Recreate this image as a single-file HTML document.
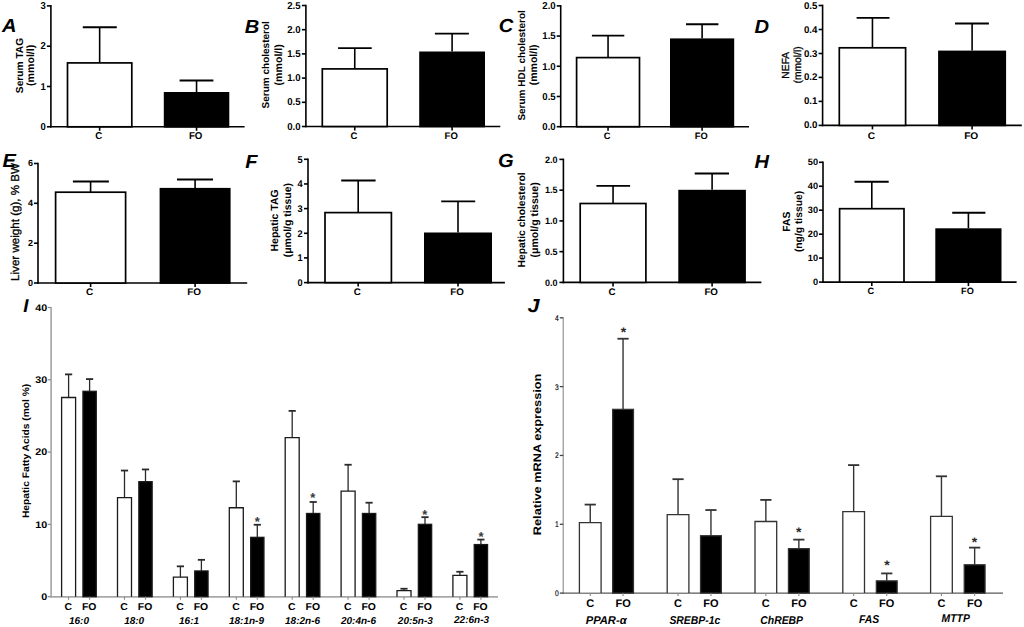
<!DOCTYPE html>
<html><head><meta charset="utf-8"><style>
html,body{margin:0;padding:0;background:#fff;width:1024px;height:627px;overflow:hidden}
svg{display:block}
text{font-family:"Liberation Sans", sans-serif;text-rendering:geometricPrecision}
</style></head><body>
<svg width="1024" height="627" viewBox="0 0 1024 627">
<rect width="1024" height="627" fill="#fff"/>
<line x1="50.90" y1="5.10" x2="50.90" y2="127.60" stroke="#000" stroke-width="1.6"/>
<line x1="50.10" y1="126.80" x2="244.60" y2="126.80" stroke="#000" stroke-width="1.6"/>
<line x1="46.90" y1="5.90" x2="50.90" y2="5.90" stroke="#000" stroke-width="1.6"/>
<text x="45.90" y="9.00" font-size="10" font-weight="bold" font-style="normal" text-anchor="end" fill="#000" transform="translate(45.90 9.00) rotate(0) scale(0.95 1.0) translate(-45.90 -9.00)">3</text>
<line x1="46.90" y1="46.20" x2="50.90" y2="46.20" stroke="#000" stroke-width="1.6"/>
<text x="45.90" y="49.30" font-size="10" font-weight="bold" font-style="normal" text-anchor="end" fill="#000" transform="translate(45.90 49.30) rotate(0) scale(0.95 1.0) translate(-45.90 -49.30)">2</text>
<line x1="46.90" y1="86.50" x2="50.90" y2="86.50" stroke="#000" stroke-width="1.6"/>
<text x="45.90" y="89.60" font-size="10" font-weight="bold" font-style="normal" text-anchor="end" fill="#000" transform="translate(45.90 89.60) rotate(0) scale(0.95 1.0) translate(-45.90 -89.60)">1</text>
<line x1="46.90" y1="126.80" x2="50.90" y2="126.80" stroke="#000" stroke-width="1.6"/>
<text x="45.90" y="129.90" font-size="10" font-weight="bold" font-style="normal" text-anchor="end" fill="#000" transform="translate(45.90 129.90) rotate(0) scale(0.95 1.0) translate(-45.90 -129.90)">0</text>
<line x1="99.65" y1="27.30" x2="99.65" y2="62.90" stroke="#000" stroke-width="1.6"/>
<line x1="82.80" y1="27.30" x2="116.80" y2="27.30" stroke="#000" stroke-width="1.9"/>
<rect x="67.50" y="62.90" width="64.30" height="63.90" fill="#fff" stroke="#000" stroke-width="1.7"/>
<line x1="99.65" y1="126.80" x2="99.65" y2="130.80" stroke="#000" stroke-width="1.6"/>
<text x="98.75" y="138.90" font-size="10" font-weight="bold" font-style="normal" text-anchor="middle" fill="#000" transform="translate(98.75 138.90) rotate(0) scale(0.97 1.0) translate(-98.75 -138.90)">C</text>
<line x1="196.55" y1="80.50" x2="196.55" y2="92.00" stroke="#000" stroke-width="1.6"/>
<line x1="179.60" y1="80.50" x2="213.40" y2="80.50" stroke="#000" stroke-width="1.9"/>
<rect x="164.65" y="92.85" width="63.80" height="33.95" fill="#000" stroke="#000" stroke-width="1.7"/>
<line x1="196.55" y1="126.80" x2="196.55" y2="130.80" stroke="#000" stroke-width="1.6"/>
<text x="195.65" y="138.90" font-size="10" font-weight="bold" font-style="normal" text-anchor="middle" fill="#000" transform="translate(195.65 138.90) rotate(0) scale(0.97 1.0) translate(-195.65 -138.90)">FO</text>
<text x="1.90" y="32.30" font-size="19" font-weight="bold" font-style="italic" text-anchor="start" fill="#000" transform="translate(1.90 32.30) rotate(0) scale(1.06 1.0) translate(-1.90 -32.30)">A</text>
<text x="22.80" y="65.50" font-size="10.2" font-weight="bold" font-style="normal" text-anchor="middle" fill="#000" transform="rotate(-90 22.80 65.50)">Serum TAG</text>
<text x="33.60" y="65.30" font-size="10.6" font-weight="bold" font-style="normal" text-anchor="middle" fill="#000" transform="rotate(-90 33.60 65.30)">(mmol/l)</text>
<line x1="305.90" y1="4.70" x2="305.90" y2="127.30" stroke="#000" stroke-width="1.6"/>
<line x1="305.10" y1="126.50" x2="500.30" y2="126.50" stroke="#000" stroke-width="1.6"/>
<line x1="301.90" y1="5.50" x2="305.90" y2="5.50" stroke="#000" stroke-width="1.6"/>
<text x="300.60" y="8.60" font-size="10" font-weight="bold" font-style="normal" text-anchor="end" fill="#000" transform="translate(300.60 8.60) rotate(0) scale(0.96 1.0) translate(-300.60 -8.60)">2.5</text>
<line x1="301.90" y1="29.70" x2="305.90" y2="29.70" stroke="#000" stroke-width="1.6"/>
<text x="300.60" y="32.80" font-size="10" font-weight="bold" font-style="normal" text-anchor="end" fill="#000" transform="translate(300.60 32.80) rotate(0) scale(0.96 1.0) translate(-300.60 -32.80)">2.0</text>
<line x1="301.90" y1="53.90" x2="305.90" y2="53.90" stroke="#000" stroke-width="1.6"/>
<text x="300.60" y="57.00" font-size="10" font-weight="bold" font-style="normal" text-anchor="end" fill="#000" transform="translate(300.60 57.00) rotate(0) scale(0.96 1.0) translate(-300.60 -57.00)">1.5</text>
<line x1="301.90" y1="78.10" x2="305.90" y2="78.10" stroke="#000" stroke-width="1.6"/>
<text x="300.60" y="81.20" font-size="10" font-weight="bold" font-style="normal" text-anchor="end" fill="#000" transform="translate(300.60 81.20) rotate(0) scale(0.96 1.0) translate(-300.60 -81.20)">1.0</text>
<line x1="301.90" y1="102.30" x2="305.90" y2="102.30" stroke="#000" stroke-width="1.6"/>
<text x="300.60" y="105.40" font-size="10" font-weight="bold" font-style="normal" text-anchor="end" fill="#000" transform="translate(300.60 105.40) rotate(0) scale(0.96 1.0) translate(-300.60 -105.40)">0.5</text>
<line x1="301.90" y1="126.50" x2="305.90" y2="126.50" stroke="#000" stroke-width="1.6"/>
<text x="300.60" y="129.60" font-size="10" font-weight="bold" font-style="normal" text-anchor="end" fill="#000" transform="translate(300.60 129.60) rotate(0) scale(0.96 1.0) translate(-300.60 -129.60)">0.0</text>
<line x1="354.75" y1="48.10" x2="354.75" y2="68.90" stroke="#000" stroke-width="1.6"/>
<line x1="338.10" y1="48.10" x2="371.70" y2="48.10" stroke="#000" stroke-width="1.9"/>
<rect x="322.30" y="68.90" width="64.90" height="57.60" fill="#fff" stroke="#000" stroke-width="1.7"/>
<line x1="354.75" y1="126.50" x2="354.75" y2="130.50" stroke="#000" stroke-width="1.6"/>
<text x="353.85" y="138.70" font-size="9.5" font-weight="bold" font-style="normal" text-anchor="middle" fill="#000">C</text>
<line x1="452.10" y1="33.60" x2="452.10" y2="51.50" stroke="#000" stroke-width="1.6"/>
<line x1="434.90" y1="33.60" x2="468.90" y2="33.60" stroke="#000" stroke-width="1.9"/>
<rect x="420.05" y="52.35" width="64.10" height="74.15" fill="#000" stroke="#000" stroke-width="1.7"/>
<line x1="452.10" y1="126.50" x2="452.10" y2="130.50" stroke="#000" stroke-width="1.6"/>
<text x="451.20" y="138.70" font-size="9.5" font-weight="bold" font-style="normal" text-anchor="middle" fill="#000">FO</text>
<text x="244.70" y="32.50" font-size="19" font-weight="bold" font-style="italic" text-anchor="start" fill="#000" transform="translate(244.70 32.50) rotate(0) scale(1.06 1.0) translate(-244.70 -32.50)">B</text>
<text x="269.00" y="64.80" font-size="10" font-weight="bold" font-style="normal" text-anchor="middle" fill="#000" transform="rotate(-90 269.00 64.80)">Serum cholesterol</text>
<text x="282.20" y="64.80" font-size="10.6" font-weight="bold" font-style="normal" text-anchor="middle" fill="#000" transform="rotate(-90 282.20 64.80)">(mmol/l)</text>
<line x1="560.70" y1="5.04" x2="560.70" y2="127.50" stroke="#000" stroke-width="1.6"/>
<line x1="559.90" y1="126.70" x2="749.00" y2="126.70" stroke="#000" stroke-width="1.6"/>
<line x1="556.70" y1="5.84" x2="560.70" y2="5.84" stroke="#000" stroke-width="1.6"/>
<text x="555.70" y="9.14" font-size="10" font-weight="bold" font-style="normal" text-anchor="end" fill="#000" transform="translate(555.70 9.14) rotate(0) scale(0.96 1.0) translate(-555.70 -9.14)">2.0</text>
<line x1="556.70" y1="36.05" x2="560.70" y2="36.05" stroke="#000" stroke-width="1.6"/>
<text x="555.70" y="39.35" font-size="10" font-weight="bold" font-style="normal" text-anchor="end" fill="#000" transform="translate(555.70 39.35) rotate(0) scale(0.96 1.0) translate(-555.70 -39.35)">1.5</text>
<line x1="556.70" y1="66.27" x2="560.70" y2="66.27" stroke="#000" stroke-width="1.6"/>
<text x="555.70" y="69.57" font-size="10" font-weight="bold" font-style="normal" text-anchor="end" fill="#000" transform="translate(555.70 69.57) rotate(0) scale(0.96 1.0) translate(-555.70 -69.57)">1.0</text>
<line x1="556.70" y1="96.48" x2="560.70" y2="96.48" stroke="#000" stroke-width="1.6"/>
<text x="555.70" y="99.78" font-size="10" font-weight="bold" font-style="normal" text-anchor="end" fill="#000" transform="translate(555.70 99.78) rotate(0) scale(0.96 1.0) translate(-555.70 -99.78)">0.5</text>
<line x1="556.70" y1="126.70" x2="560.70" y2="126.70" stroke="#000" stroke-width="1.6"/>
<text x="555.70" y="130.00" font-size="10" font-weight="bold" font-style="normal" text-anchor="end" fill="#000" transform="translate(555.70 130.00) rotate(0) scale(0.96 1.0) translate(-555.70 -130.00)">0.0</text>
<line x1="608.05" y1="35.60" x2="608.05" y2="57.60" stroke="#000" stroke-width="1.6"/>
<line x1="591.90" y1="35.60" x2="624.30" y2="35.60" stroke="#000" stroke-width="1.9"/>
<rect x="576.60" y="57.60" width="62.90" height="69.10" fill="#fff" stroke="#000" stroke-width="1.7"/>
<line x1="608.05" y1="126.70" x2="608.05" y2="130.70" stroke="#000" stroke-width="1.6"/>
<text x="607.15" y="139.00" font-size="9.3" font-weight="bold" font-style="normal" text-anchor="middle" fill="#000">C</text>
<line x1="702.10" y1="24.30" x2="702.10" y2="38.40" stroke="#000" stroke-width="1.6"/>
<line x1="686.00" y1="24.30" x2="718.40" y2="24.30" stroke="#000" stroke-width="1.9"/>
<rect x="670.85" y="39.25" width="62.50" height="87.45" fill="#000" stroke="#000" stroke-width="1.7"/>
<line x1="702.10" y1="126.70" x2="702.10" y2="130.70" stroke="#000" stroke-width="1.6"/>
<text x="701.20" y="139.00" font-size="9.3" font-weight="bold" font-style="normal" text-anchor="middle" fill="#000">FO</text>
<text x="498.70" y="32.20" font-size="19" font-weight="bold" font-style="italic" text-anchor="start" fill="#000" transform="translate(498.70 32.20) rotate(0) scale(1.06 1.0) translate(-498.70 -32.20)">C</text>
<text x="525.40" y="65.40" font-size="10" font-weight="bold" font-style="normal" text-anchor="middle" fill="#000" transform="rotate(-90 525.40 65.40)">Serum HDL cholesterol</text>
<text x="537.40" y="64.80" font-size="10.5" font-weight="bold" font-style="normal" text-anchor="middle" fill="#000" transform="rotate(-90 537.40 64.80)">(mmol/l)</text>
<line x1="822.60" y1="4.70" x2="822.60" y2="126.20" stroke="#000" stroke-width="1.6"/>
<line x1="821.80" y1="125.40" x2="1021.80" y2="125.40" stroke="#000" stroke-width="1.6"/>
<line x1="818.60" y1="5.50" x2="822.60" y2="5.50" stroke="#000" stroke-width="1.6"/>
<text x="817.40" y="8.50" font-size="9.7" font-weight="bold" font-style="normal" text-anchor="end" fill="#000">0.5</text>
<line x1="818.60" y1="29.50" x2="822.60" y2="29.50" stroke="#000" stroke-width="1.6"/>
<text x="817.40" y="32.50" font-size="9.7" font-weight="bold" font-style="normal" text-anchor="end" fill="#000">0.4</text>
<line x1="818.60" y1="53.50" x2="822.60" y2="53.50" stroke="#000" stroke-width="1.6"/>
<text x="817.40" y="56.50" font-size="9.7" font-weight="bold" font-style="normal" text-anchor="end" fill="#000">0.3</text>
<line x1="818.60" y1="77.40" x2="822.60" y2="77.40" stroke="#000" stroke-width="1.6"/>
<text x="817.40" y="80.40" font-size="9.7" font-weight="bold" font-style="normal" text-anchor="end" fill="#000">0.2</text>
<line x1="818.60" y1="101.40" x2="822.60" y2="101.40" stroke="#000" stroke-width="1.6"/>
<text x="817.40" y="104.40" font-size="9.7" font-weight="bold" font-style="normal" text-anchor="end" fill="#000">0.1</text>
<line x1="818.60" y1="125.40" x2="822.60" y2="125.40" stroke="#000" stroke-width="1.6"/>
<text x="817.40" y="128.40" font-size="9.7" font-weight="bold" font-style="normal" text-anchor="end" fill="#000">0.0</text>
<line x1="872.45" y1="17.90" x2="872.45" y2="47.80" stroke="#000" stroke-width="1.6"/>
<line x1="856.60" y1="17.90" x2="889.50" y2="17.90" stroke="#000" stroke-width="1.9"/>
<rect x="839.30" y="47.80" width="66.30" height="77.60" fill="#fff" stroke="#000" stroke-width="1.7"/>
<line x1="872.45" y1="125.40" x2="872.45" y2="129.40" stroke="#000" stroke-width="1.6"/>
<text x="871.55" y="138.70" font-size="9.7" font-weight="bold" font-style="normal" text-anchor="middle" fill="#000" transform="translate(871.55 138.70) rotate(0) scale(1.05 1.0) translate(-871.55 -138.70)">C</text>
<line x1="972.10" y1="23.50" x2="972.10" y2="50.60" stroke="#000" stroke-width="1.6"/>
<line x1="955.00" y1="23.50" x2="988.90" y2="23.50" stroke="#000" stroke-width="1.9"/>
<rect x="938.95" y="51.45" width="66.30" height="73.95" fill="#000" stroke="#000" stroke-width="1.7"/>
<line x1="972.10" y1="125.40" x2="972.10" y2="129.40" stroke="#000" stroke-width="1.6"/>
<text x="971.20" y="138.70" font-size="9.7" font-weight="bold" font-style="normal" text-anchor="middle" fill="#000" transform="translate(971.20 138.70) rotate(0) scale(1.05 1.0) translate(-971.20 -138.70)">FO</text>
<text x="754.50" y="32.60" font-size="19" font-weight="bold" font-style="italic" text-anchor="start" fill="#000" transform="translate(754.50 32.60) rotate(0) scale(1.06 1.0) translate(-754.50 -32.60)">D</text>
<text x="789.00" y="65.20" font-size="10.3" font-weight="normal" font-style="normal" text-anchor="middle" fill="#000" stroke="#000" stroke-width="0.3" transform="rotate(-90 789.00 65.20)">NEFA</text>
<text x="801.40" y="64.90" font-size="10.3" font-weight="normal" font-style="normal" text-anchor="middle" fill="#000" stroke="#000" stroke-width="0.3" transform="rotate(-90 801.40 64.90)">(mmol/l)</text>
<line x1="38.00" y1="162.70" x2="38.00" y2="283.80" stroke="#000" stroke-width="1.6"/>
<line x1="37.20" y1="283.00" x2="247.20" y2="283.00" stroke="#000" stroke-width="1.6"/>
<line x1="34.00" y1="163.50" x2="38.00" y2="163.50" stroke="#000" stroke-width="1.6"/>
<text x="33.10" y="166.47" font-size="9" font-weight="bold" font-style="normal" text-anchor="end" fill="#000">6</text>
<line x1="34.00" y1="203.30" x2="38.00" y2="203.30" stroke="#000" stroke-width="1.6"/>
<text x="33.10" y="206.27" font-size="9" font-weight="bold" font-style="normal" text-anchor="end" fill="#000">4</text>
<line x1="34.00" y1="243.20" x2="38.00" y2="243.20" stroke="#000" stroke-width="1.6"/>
<text x="33.10" y="246.17" font-size="9" font-weight="bold" font-style="normal" text-anchor="end" fill="#000">2</text>
<line x1="34.00" y1="283.00" x2="38.00" y2="283.00" stroke="#000" stroke-width="1.6"/>
<text x="33.10" y="285.97" font-size="9" font-weight="bold" font-style="normal" text-anchor="end" fill="#000">0</text>
<line x1="90.60" y1="181.50" x2="90.60" y2="192.20" stroke="#000" stroke-width="1.6"/>
<line x1="72.90" y1="181.50" x2="108.90" y2="181.50" stroke="#000" stroke-width="1.9"/>
<rect x="55.60" y="192.20" width="70.00" height="90.80" fill="#fff" stroke="#000" stroke-width="1.7"/>
<line x1="90.60" y1="283.00" x2="90.60" y2="287.00" stroke="#000" stroke-width="1.6"/>
<text x="89.70" y="295.00" font-size="9.5" font-weight="bold" font-style="normal" text-anchor="middle" fill="#000" transform="translate(89.70 295.00) rotate(0) scale(1.05 1.0) translate(-89.70 -295.00)">C</text>
<line x1="195.10" y1="179.50" x2="195.10" y2="187.90" stroke="#000" stroke-width="1.6"/>
<line x1="177.00" y1="179.50" x2="213.00" y2="179.50" stroke="#000" stroke-width="1.9"/>
<rect x="160.45" y="188.75" width="69.30" height="94.25" fill="#000" stroke="#000" stroke-width="1.7"/>
<line x1="195.10" y1="283.00" x2="195.10" y2="287.00" stroke="#000" stroke-width="1.6"/>
<text x="194.20" y="295.00" font-size="9.5" font-weight="bold" font-style="normal" text-anchor="middle" fill="#000" transform="translate(194.20 295.00) rotate(0) scale(1.05 1.0) translate(-194.20 -295.00)">FO</text>
<text x="2.40" y="167.40" font-size="19" font-weight="bold" font-style="italic" text-anchor="start" fill="#000" transform="translate(2.40 167.40) rotate(0) scale(1.06 1.0) translate(-2.40 -167.40)">E</text>
<text x="18.80" y="222.00" font-size="11.6" font-weight="normal" font-style="normal" text-anchor="middle" fill="#000" stroke="#000" stroke-width="0.3" transform="rotate(-90 18.80 222.00)">Liver weight (g), % BW</text>
<line x1="308.00" y1="158.50" x2="308.00" y2="283.40" stroke="#000" stroke-width="1.6"/>
<line x1="307.20" y1="282.60" x2="504.90" y2="282.60" stroke="#000" stroke-width="1.6"/>
<line x1="304.00" y1="159.30" x2="308.00" y2="159.30" stroke="#000" stroke-width="1.6"/>
<text x="302.70" y="162.70" font-size="9.7" font-weight="bold" font-style="normal" text-anchor="end" fill="#000" transform="translate(302.70 162.70) rotate(0) scale(0.95 1.0) translate(-302.70 -162.70)">5</text>
<line x1="304.00" y1="183.96" x2="308.00" y2="183.96" stroke="#000" stroke-width="1.6"/>
<text x="302.70" y="187.36" font-size="9.7" font-weight="bold" font-style="normal" text-anchor="end" fill="#000" transform="translate(302.70 187.36) rotate(0) scale(0.95 1.0) translate(-302.70 -187.36)">4</text>
<line x1="304.00" y1="208.60" x2="308.00" y2="208.60" stroke="#000" stroke-width="1.6"/>
<text x="302.70" y="212.00" font-size="9.7" font-weight="bold" font-style="normal" text-anchor="end" fill="#000" transform="translate(302.70 212.00) rotate(0) scale(0.95 1.0) translate(-302.70 -212.00)">3</text>
<line x1="304.00" y1="233.30" x2="308.00" y2="233.30" stroke="#000" stroke-width="1.6"/>
<text x="302.70" y="236.70" font-size="9.7" font-weight="bold" font-style="normal" text-anchor="end" fill="#000" transform="translate(302.70 236.70) rotate(0) scale(0.95 1.0) translate(-302.70 -236.70)">2</text>
<line x1="304.00" y1="257.90" x2="308.00" y2="257.90" stroke="#000" stroke-width="1.6"/>
<text x="302.70" y="261.30" font-size="9.7" font-weight="bold" font-style="normal" text-anchor="end" fill="#000" transform="translate(302.70 261.30) rotate(0) scale(0.95 1.0) translate(-302.70 -261.30)">1</text>
<line x1="304.00" y1="282.60" x2="308.00" y2="282.60" stroke="#000" stroke-width="1.6"/>
<text x="302.70" y="286.00" font-size="9.7" font-weight="bold" font-style="normal" text-anchor="end" fill="#000" transform="translate(302.70 286.00) rotate(0) scale(0.95 1.0) translate(-302.70 -286.00)">0</text>
<line x1="358.20" y1="180.50" x2="358.20" y2="212.60" stroke="#000" stroke-width="1.6"/>
<line x1="341.20" y1="180.50" x2="375.60" y2="180.50" stroke="#000" stroke-width="1.9"/>
<rect x="325.00" y="212.60" width="66.40" height="70.00" fill="#fff" stroke="#000" stroke-width="1.7"/>
<line x1="358.20" y1="282.60" x2="358.20" y2="286.60" stroke="#000" stroke-width="1.6"/>
<text x="357.30" y="295.00" font-size="9.5" font-weight="bold" font-style="normal" text-anchor="middle" fill="#000" transform="translate(357.30 295.00) rotate(0) scale(1.03 1.0) translate(-357.30 -295.00)">C</text>
<line x1="458.00" y1="201.40" x2="458.00" y2="232.50" stroke="#000" stroke-width="1.6"/>
<line x1="441.20" y1="201.40" x2="475.20" y2="201.40" stroke="#000" stroke-width="1.9"/>
<rect x="424.85" y="233.35" width="66.30" height="49.25" fill="#000" stroke="#000" stroke-width="1.7"/>
<line x1="458.00" y1="282.60" x2="458.00" y2="286.60" stroke="#000" stroke-width="1.6"/>
<text x="457.10" y="295.00" font-size="9.5" font-weight="bold" font-style="normal" text-anchor="middle" fill="#000" transform="translate(457.10 295.00) rotate(0) scale(1.03 1.0) translate(-457.10 -295.00)">FO</text>
<text x="245.30" y="167.50" font-size="19" font-weight="bold" font-style="italic" text-anchor="start" fill="#000" transform="translate(245.30 167.50) rotate(0) scale(1.06 1.0) translate(-245.30 -167.50)">F</text>
<text x="277.80" y="220.40" font-size="10.5" font-weight="bold" font-style="normal" text-anchor="middle" fill="#000" transform="rotate(-90 277.80 220.40)">Hepatic TAG</text>
<text x="291.00" y="220.20" font-size="10.45" font-weight="bold" font-style="normal" text-anchor="middle" fill="#000" transform="rotate(-90 291.00 220.20)">(&#956;mol/g tissue)</text>
<line x1="563.40" y1="158.60" x2="563.40" y2="283.20" stroke="#000" stroke-width="1.6"/>
<line x1="562.60" y1="282.40" x2="761.40" y2="282.40" stroke="#000" stroke-width="1.6"/>
<line x1="559.40" y1="159.40" x2="563.40" y2="159.40" stroke="#000" stroke-width="1.6"/>
<text x="557.60" y="162.64" font-size="9.2" font-weight="bold" font-style="normal" text-anchor="end" fill="#000" transform="translate(557.60 162.64) rotate(0) scale(0.98 1.0) translate(-557.60 -162.64)">2.0</text>
<line x1="559.40" y1="190.15" x2="563.40" y2="190.15" stroke="#000" stroke-width="1.6"/>
<text x="557.60" y="193.39" font-size="9.2" font-weight="bold" font-style="normal" text-anchor="end" fill="#000" transform="translate(557.60 193.39) rotate(0) scale(0.98 1.0) translate(-557.60 -193.39)">1.5</text>
<line x1="559.40" y1="220.90" x2="563.40" y2="220.90" stroke="#000" stroke-width="1.6"/>
<text x="557.60" y="224.14" font-size="9.2" font-weight="bold" font-style="normal" text-anchor="end" fill="#000" transform="translate(557.60 224.14) rotate(0) scale(0.98 1.0) translate(-557.60 -224.14)">1.0</text>
<line x1="559.40" y1="251.65" x2="563.40" y2="251.65" stroke="#000" stroke-width="1.6"/>
<text x="557.60" y="254.89" font-size="9.2" font-weight="bold" font-style="normal" text-anchor="end" fill="#000" transform="translate(557.60 254.89) rotate(0) scale(0.98 1.0) translate(-557.60 -254.89)">0.5</text>
<line x1="559.40" y1="282.40" x2="563.40" y2="282.40" stroke="#000" stroke-width="1.6"/>
<text x="557.60" y="285.64" font-size="9.2" font-weight="bold" font-style="normal" text-anchor="end" fill="#000" transform="translate(557.60 285.64) rotate(0) scale(0.98 1.0) translate(-557.60 -285.64)">0.0</text>
<line x1="613.05" y1="185.90" x2="613.05" y2="203.50" stroke="#000" stroke-width="1.6"/>
<line x1="596.40" y1="185.90" x2="630.10" y2="185.90" stroke="#000" stroke-width="1.9"/>
<rect x="580.20" y="203.50" width="65.70" height="78.90" fill="#fff" stroke="#000" stroke-width="1.7"/>
<line x1="613.05" y1="282.40" x2="613.05" y2="286.40" stroke="#000" stroke-width="1.6"/>
<text x="612.15" y="295.10" font-size="9.5" font-weight="bold" font-style="normal" text-anchor="middle" fill="#000" transform="translate(612.15 295.10) rotate(0) scale(1.03 1.0) translate(-612.15 -295.10)">C</text>
<line x1="712.10" y1="173.50" x2="712.10" y2="189.80" stroke="#000" stroke-width="1.6"/>
<line x1="694.70" y1="173.50" x2="729.00" y2="173.50" stroke="#000" stroke-width="1.9"/>
<rect x="679.15" y="190.65" width="65.90" height="91.75" fill="#000" stroke="#000" stroke-width="1.7"/>
<line x1="712.10" y1="282.40" x2="712.10" y2="286.40" stroke="#000" stroke-width="1.6"/>
<text x="711.20" y="295.10" font-size="9.5" font-weight="bold" font-style="normal" text-anchor="middle" fill="#000" transform="translate(711.20 295.10) rotate(0) scale(1.03 1.0) translate(-711.20 -295.10)">FO</text>
<text x="498.10" y="167.40" font-size="19" font-weight="bold" font-style="italic" text-anchor="start" fill="#000" transform="translate(498.10 167.40) rotate(0) scale(1.06 1.0) translate(-498.10 -167.40)">G</text>
<text x="525.40" y="219.90" font-size="10.3" font-weight="bold" font-style="normal" text-anchor="middle" fill="#000" transform="rotate(-90 525.40 219.90)">Hepatic cholesterol</text>
<text x="538.30" y="219.90" font-size="10.6" font-weight="bold" font-style="normal" text-anchor="middle" fill="#000" transform="rotate(-90 538.30 219.90)">(&#956;mol/g tissue)</text>
<line x1="823.00" y1="161.50" x2="823.00" y2="282.90" stroke="#000" stroke-width="1.6"/>
<line x1="822.20" y1="282.10" x2="1016.60" y2="282.10" stroke="#000" stroke-width="1.6"/>
<line x1="819.00" y1="162.30" x2="823.00" y2="162.30" stroke="#000" stroke-width="1.6"/>
<text x="818.10" y="165.34" font-size="9.2" font-weight="bold" font-style="normal" text-anchor="end" fill="#000">50</text>
<line x1="819.00" y1="186.26" x2="823.00" y2="186.26" stroke="#000" stroke-width="1.6"/>
<text x="818.10" y="189.30" font-size="9.2" font-weight="bold" font-style="normal" text-anchor="end" fill="#000">40</text>
<line x1="819.00" y1="210.20" x2="823.00" y2="210.20" stroke="#000" stroke-width="1.6"/>
<text x="818.10" y="213.24" font-size="9.2" font-weight="bold" font-style="normal" text-anchor="end" fill="#000">30</text>
<line x1="819.00" y1="234.20" x2="823.00" y2="234.20" stroke="#000" stroke-width="1.6"/>
<text x="818.10" y="237.24" font-size="9.2" font-weight="bold" font-style="normal" text-anchor="end" fill="#000">20</text>
<line x1="819.00" y1="258.10" x2="823.00" y2="258.10" stroke="#000" stroke-width="1.6"/>
<text x="818.10" y="261.14" font-size="9.2" font-weight="bold" font-style="normal" text-anchor="end" fill="#000">10</text>
<line x1="819.00" y1="282.10" x2="823.00" y2="282.10" stroke="#000" stroke-width="1.6"/>
<text x="818.10" y="285.14" font-size="9.2" font-weight="bold" font-style="normal" text-anchor="end" fill="#000">0</text>
<line x1="871.80" y1="181.70" x2="871.80" y2="208.70" stroke="#000" stroke-width="1.6"/>
<line x1="854.50" y1="181.70" x2="888.70" y2="181.70" stroke="#000" stroke-width="1.9"/>
<rect x="839.60" y="208.70" width="64.40" height="73.40" fill="#fff" stroke="#000" stroke-width="1.7"/>
<line x1="871.80" y1="282.10" x2="871.80" y2="286.10" stroke="#000" stroke-width="1.6"/>
<text x="870.90" y="294.10" font-size="9.2" font-weight="bold" font-style="normal" text-anchor="middle" fill="#000">C</text>
<line x1="968.40" y1="212.80" x2="968.40" y2="228.30" stroke="#000" stroke-width="1.6"/>
<line x1="952.20" y1="212.80" x2="985.40" y2="212.80" stroke="#000" stroke-width="1.9"/>
<rect x="936.15" y="229.15" width="64.50" height="52.95" fill="#000" stroke="#000" stroke-width="1.7"/>
<line x1="968.40" y1="282.10" x2="968.40" y2="286.10" stroke="#000" stroke-width="1.6"/>
<text x="967.50" y="294.10" font-size="9.2" font-weight="bold" font-style="normal" text-anchor="middle" fill="#000">FO</text>
<text x="754.50" y="167.70" font-size="19" font-weight="bold" font-style="italic" text-anchor="start" fill="#000" transform="translate(754.50 167.70) rotate(0) scale(1.06 1.0) translate(-754.50 -167.70)">H</text>
<text x="789.60" y="221.60" font-size="10.4" font-weight="bold" font-style="normal" text-anchor="middle" fill="#000" transform="rotate(-90 789.60 221.60)">FAS</text>
<text x="801.50" y="221.50" font-size="10.3" font-weight="bold" font-style="normal" text-anchor="middle" fill="#000" transform="rotate(-90 801.50 221.50)">(ng/g tissue)</text>
<line x1="51.10" y1="307.00" x2="51.10" y2="597.50" stroke="#a8a8a8" stroke-width="1.7"/>
<line x1="50.20" y1="596.90" x2="498.00" y2="596.90" stroke="#a8a8a8" stroke-width="1.8"/>
<line x1="47.80" y1="596.70" x2="50.80" y2="596.70" stroke="#888" stroke-width="1.2"/>
<text x="47.30" y="599.90" font-size="9.6" font-weight="bold" font-style="normal" text-anchor="end" fill="#000" transform="translate(47.30 599.90) rotate(0) scale(1.12 1.0) translate(-47.30 -599.90)">0</text>
<line x1="47.80" y1="524.40" x2="50.80" y2="524.40" stroke="#888" stroke-width="1.2"/>
<text x="47.30" y="527.60" font-size="9.6" font-weight="bold" font-style="normal" text-anchor="end" fill="#000" transform="translate(47.30 527.60) rotate(0) scale(1.12 1.0) translate(-47.30 -527.60)">10</text>
<line x1="47.80" y1="452.10" x2="50.80" y2="452.10" stroke="#888" stroke-width="1.2"/>
<text x="47.30" y="455.30" font-size="9.6" font-weight="bold" font-style="normal" text-anchor="end" fill="#000" transform="translate(47.30 455.30) rotate(0) scale(1.12 1.0) translate(-47.30 -455.30)">20</text>
<line x1="47.80" y1="379.80" x2="50.80" y2="379.80" stroke="#888" stroke-width="1.2"/>
<text x="47.30" y="383.00" font-size="9.6" font-weight="bold" font-style="normal" text-anchor="end" fill="#000" transform="translate(47.30 383.00) rotate(0) scale(1.12 1.0) translate(-47.30 -383.00)">30</text>
<line x1="47.80" y1="307.50" x2="50.80" y2="307.50" stroke="#888" stroke-width="1.2"/>
<text x="47.30" y="310.70" font-size="9.6" font-weight="bold" font-style="normal" text-anchor="end" fill="#000" transform="translate(47.30 310.70) rotate(0) scale(1.12 1.0) translate(-47.30 -310.70)">40</text>
<line x1="68.60" y1="374.38" x2="68.60" y2="398.11" stroke="#2a2a2a" stroke-width="1.3"/>
<line x1="65.00" y1="374.38" x2="72.20" y2="374.38" stroke="#2a2a2a" stroke-width="1.8"/>
<rect x="61.60" y="397.51" width="14.00" height="198.39" fill="#fff"/>
<polyline points="61.60,596.70 61.60,397.51 75.60,397.51 75.60,596.70" fill="none" stroke="#1a1a1a" stroke-width="1.3"/>
<line x1="68.60" y1="596.70" x2="68.60" y2="599.70" stroke="#888" stroke-width="1.1"/>
<text x="68.20" y="610.00" font-size="10" font-weight="bold" font-style="normal" text-anchor="middle" fill="#000" transform="translate(68.20 610.00) rotate(0) scale(1.04 1.0) translate(-68.20 -610.00)">C</text>
<line x1="89.60" y1="379.08" x2="89.60" y2="391.25" stroke="#2a2a2a" stroke-width="1.3"/>
<line x1="86.00" y1="379.08" x2="93.20" y2="379.08" stroke="#2a2a2a" stroke-width="1.8"/>
<rect x="82.95" y="391.29" width="13.30" height="205.41" fill="#000" stroke="#1a1a1a" stroke-width="1.3"/>
<line x1="89.60" y1="596.70" x2="89.60" y2="599.70" stroke="#888" stroke-width="1.1"/>
<text x="89.20" y="610.00" font-size="10" font-weight="bold" font-style="normal" text-anchor="middle" fill="#000" transform="translate(89.20 610.00) rotate(0) scale(1.04 1.0) translate(-89.20 -610.00)">FO</text>
<text x="78.95" y="623.70" font-size="10" font-weight="bold" font-style="italic" text-anchor="middle" fill="#000">16:0</text>
<line x1="124.50" y1="470.54" x2="124.50" y2="498.25" stroke="#2a2a2a" stroke-width="1.3"/>
<line x1="120.90" y1="470.54" x2="128.10" y2="470.54" stroke="#2a2a2a" stroke-width="1.8"/>
<rect x="117.50" y="497.65" width="14.00" height="98.25" fill="#fff"/>
<polyline points="117.50,596.70 117.50,497.65 131.50,497.65 131.50,596.70" fill="none" stroke="#1a1a1a" stroke-width="1.3"/>
<line x1="124.50" y1="596.70" x2="124.50" y2="599.70" stroke="#888" stroke-width="1.1"/>
<text x="124.10" y="610.00" font-size="10" font-weight="bold" font-style="normal" text-anchor="middle" fill="#000" transform="translate(124.10 610.00) rotate(0) scale(1.04 1.0) translate(-124.10 -610.00)">C</text>
<line x1="145.50" y1="469.45" x2="145.50" y2="481.62" stroke="#2a2a2a" stroke-width="1.3"/>
<line x1="141.90" y1="469.45" x2="149.10" y2="469.45" stroke="#2a2a2a" stroke-width="1.8"/>
<rect x="138.85" y="481.67" width="13.30" height="115.03" fill="#000" stroke="#1a1a1a" stroke-width="1.3"/>
<line x1="145.50" y1="596.70" x2="145.50" y2="599.70" stroke="#888" stroke-width="1.1"/>
<text x="145.10" y="610.00" font-size="10" font-weight="bold" font-style="normal" text-anchor="middle" fill="#000" transform="translate(145.10 610.00) rotate(0) scale(1.04 1.0) translate(-145.10 -610.00)">FO</text>
<text x="134.15" y="623.70" font-size="10" font-weight="bold" font-style="italic" text-anchor="middle" fill="#000">18:0</text>
<line x1="180.40" y1="566.33" x2="180.40" y2="577.78" stroke="#2a2a2a" stroke-width="1.3"/>
<line x1="176.80" y1="566.33" x2="184.00" y2="566.33" stroke="#2a2a2a" stroke-width="1.8"/>
<rect x="173.40" y="577.18" width="14.00" height="18.72" fill="#fff"/>
<polyline points="173.40,596.70 173.40,577.18 187.40,577.18 187.40,596.70" fill="none" stroke="#1a1a1a" stroke-width="1.3"/>
<line x1="180.40" y1="596.70" x2="180.40" y2="599.70" stroke="#888" stroke-width="1.1"/>
<text x="180.00" y="610.00" font-size="10" font-weight="bold" font-style="normal" text-anchor="middle" fill="#000" transform="translate(180.00 610.00) rotate(0) scale(1.04 1.0) translate(-180.00 -610.00)">C</text>
<line x1="201.40" y1="559.83" x2="201.40" y2="570.91" stroke="#2a2a2a" stroke-width="1.3"/>
<line x1="197.80" y1="559.83" x2="205.00" y2="559.83" stroke="#2a2a2a" stroke-width="1.8"/>
<rect x="194.75" y="570.96" width="13.30" height="25.74" fill="#000" stroke="#1a1a1a" stroke-width="1.3"/>
<line x1="201.40" y1="596.70" x2="201.40" y2="599.70" stroke="#888" stroke-width="1.1"/>
<text x="201.00" y="610.00" font-size="10" font-weight="bold" font-style="normal" text-anchor="middle" fill="#000" transform="translate(201.00 610.00) rotate(0) scale(1.04 1.0) translate(-201.00 -610.00)">FO</text>
<text x="189.05" y="623.70" font-size="10" font-weight="bold" font-style="italic" text-anchor="middle" fill="#000">16:1</text>
<line x1="236.30" y1="481.38" x2="236.30" y2="508.37" stroke="#2a2a2a" stroke-width="1.3"/>
<line x1="232.70" y1="481.38" x2="239.90" y2="481.38" stroke="#2a2a2a" stroke-width="1.8"/>
<rect x="229.30" y="507.77" width="14.00" height="88.13" fill="#fff"/>
<polyline points="229.30,596.70 229.30,507.77 243.30,507.77 243.30,596.70" fill="none" stroke="#1a1a1a" stroke-width="1.3"/>
<line x1="236.30" y1="596.70" x2="236.30" y2="599.70" stroke="#888" stroke-width="1.1"/>
<text x="235.90" y="610.00" font-size="10" font-weight="bold" font-style="normal" text-anchor="middle" fill="#000" transform="translate(235.90 610.00) rotate(0) scale(1.04 1.0) translate(-235.90 -610.00)">C</text>
<line x1="257.30" y1="524.76" x2="257.30" y2="537.29" stroke="#2a2a2a" stroke-width="1.3"/>
<line x1="253.70" y1="524.76" x2="260.90" y2="524.76" stroke="#2a2a2a" stroke-width="1.8"/>
<rect x="250.65" y="537.34" width="13.30" height="59.36" fill="#000" stroke="#1a1a1a" stroke-width="1.3"/>
<line x1="257.30" y1="596.70" x2="257.30" y2="599.70" stroke="#888" stroke-width="1.1"/>
<text x="256.90" y="610.00" font-size="10" font-weight="bold" font-style="normal" text-anchor="middle" fill="#000" transform="translate(256.90 610.00) rotate(0) scale(1.04 1.0) translate(-256.90 -610.00)">FO</text>
<text x="257.35" y="525.68" font-size="13" font-weight="bold" font-style="normal" text-anchor="middle" fill="#3a3a3a">*</text>
<text x="246.45" y="623.70" font-size="10" font-weight="bold" font-style="italic" text-anchor="middle" fill="#000">18:1<tspan font-style="italic">n</tspan>-9</text>
<line x1="292.20" y1="410.89" x2="292.20" y2="438.24" stroke="#2a2a2a" stroke-width="1.3"/>
<line x1="288.60" y1="410.89" x2="295.80" y2="410.89" stroke="#2a2a2a" stroke-width="1.8"/>
<rect x="285.20" y="437.64" width="14.00" height="158.26" fill="#fff"/>
<polyline points="285.20,596.70 285.20,437.64 299.20,437.64 299.20,596.70" fill="none" stroke="#1a1a1a" stroke-width="1.3"/>
<line x1="292.20" y1="596.70" x2="292.20" y2="599.70" stroke="#888" stroke-width="1.1"/>
<text x="291.80" y="610.00" font-size="10" font-weight="bold" font-style="normal" text-anchor="middle" fill="#000" transform="translate(291.80 610.00) rotate(0) scale(1.04 1.0) translate(-291.80 -610.00)">C</text>
<line x1="313.20" y1="501.99" x2="313.20" y2="513.43" stroke="#2a2a2a" stroke-width="1.3"/>
<line x1="309.60" y1="501.99" x2="316.80" y2="501.99" stroke="#2a2a2a" stroke-width="1.8"/>
<rect x="306.55" y="513.48" width="13.30" height="83.22" fill="#000" stroke="#1a1a1a" stroke-width="1.3"/>
<line x1="313.20" y1="596.70" x2="313.20" y2="599.70" stroke="#888" stroke-width="1.1"/>
<text x="312.80" y="610.00" font-size="10" font-weight="bold" font-style="normal" text-anchor="middle" fill="#000" transform="translate(312.80 610.00) rotate(0) scale(1.04 1.0) translate(-312.80 -610.00)">FO</text>
<text x="312.85" y="501.88" font-size="13" font-weight="bold" font-style="normal" text-anchor="middle" fill="#3a3a3a">*</text>
<text x="302.55" y="623.70" font-size="10" font-weight="bold" font-style="italic" text-anchor="middle" fill="#000">18:2<tspan font-style="italic">n</tspan>-6</text>
<line x1="348.10" y1="464.75" x2="348.10" y2="491.74" stroke="#2a2a2a" stroke-width="1.3"/>
<line x1="344.50" y1="464.75" x2="351.70" y2="464.75" stroke="#2a2a2a" stroke-width="1.8"/>
<rect x="341.10" y="491.14" width="14.00" height="104.76" fill="#fff"/>
<polyline points="341.10,596.70 341.10,491.14 355.10,491.14 355.10,596.70" fill="none" stroke="#1a1a1a" stroke-width="1.3"/>
<line x1="348.10" y1="596.70" x2="348.10" y2="599.70" stroke="#888" stroke-width="1.1"/>
<text x="347.70" y="610.00" font-size="10" font-weight="bold" font-style="normal" text-anchor="middle" fill="#000" transform="translate(347.70 610.00) rotate(0) scale(1.04 1.0) translate(-347.70 -610.00)">C</text>
<line x1="369.10" y1="502.71" x2="369.10" y2="513.43" stroke="#2a2a2a" stroke-width="1.3"/>
<line x1="365.50" y1="502.71" x2="372.70" y2="502.71" stroke="#2a2a2a" stroke-width="1.8"/>
<rect x="362.45" y="513.48" width="13.30" height="83.22" fill="#000" stroke="#1a1a1a" stroke-width="1.3"/>
<line x1="369.10" y1="596.70" x2="369.10" y2="599.70" stroke="#888" stroke-width="1.1"/>
<text x="368.70" y="610.00" font-size="10" font-weight="bold" font-style="normal" text-anchor="middle" fill="#000" transform="translate(368.70 610.00) rotate(0) scale(1.04 1.0) translate(-368.70 -610.00)">FO</text>
<text x="358.45" y="623.70" font-size="10" font-weight="bold" font-style="italic" text-anchor="middle" fill="#000">20:4<tspan font-style="italic">n</tspan>-6</text>
<line x1="404.00" y1="588.75" x2="404.00" y2="591.15" stroke="#2a2a2a" stroke-width="1.3"/>
<line x1="400.40" y1="588.75" x2="407.60" y2="588.75" stroke="#2a2a2a" stroke-width="1.8"/>
<rect x="397.00" y="590.55" width="14.00" height="5.35" fill="#fff"/>
<polyline points="397.00,596.70 397.00,590.55 411.00,590.55 411.00,596.70" fill="none" stroke="#1a1a1a" stroke-width="1.3"/>
<line x1="404.00" y1="596.70" x2="404.00" y2="599.70" stroke="#888" stroke-width="1.1"/>
<text x="403.60" y="610.00" font-size="10" font-weight="bold" font-style="normal" text-anchor="middle" fill="#000" transform="translate(403.60 610.00) rotate(0) scale(1.04 1.0) translate(-403.60 -610.00)">C</text>
<line x1="425.00" y1="517.17" x2="425.00" y2="524.28" stroke="#2a2a2a" stroke-width="1.3"/>
<line x1="421.40" y1="517.17" x2="428.60" y2="517.17" stroke="#2a2a2a" stroke-width="1.8"/>
<rect x="418.35" y="524.33" width="13.30" height="72.37" fill="#000" stroke="#1a1a1a" stroke-width="1.3"/>
<line x1="425.00" y1="596.70" x2="425.00" y2="599.70" stroke="#888" stroke-width="1.1"/>
<text x="424.60" y="610.00" font-size="10" font-weight="bold" font-style="normal" text-anchor="middle" fill="#000" transform="translate(424.60 610.00) rotate(0) scale(1.04 1.0) translate(-424.60 -610.00)">FO</text>
<text x="424.75" y="519.18" font-size="13" font-weight="bold" font-style="normal" text-anchor="middle" fill="#3a3a3a">*</text>
<text x="415.35" y="623.70" font-size="10" font-weight="bold" font-style="italic" text-anchor="middle" fill="#000">20:5<tspan font-style="italic">n</tspan>-3</text>
<line x1="459.90" y1="571.76" x2="459.90" y2="575.97" stroke="#2a2a2a" stroke-width="1.3"/>
<line x1="456.30" y1="571.76" x2="463.50" y2="571.76" stroke="#2a2a2a" stroke-width="1.8"/>
<rect x="452.90" y="575.37" width="14.00" height="20.53" fill="#fff"/>
<polyline points="452.90,596.70 452.90,575.37 466.90,575.37 466.90,596.70" fill="none" stroke="#1a1a1a" stroke-width="1.3"/>
<line x1="459.90" y1="596.70" x2="459.90" y2="599.70" stroke="#888" stroke-width="1.1"/>
<text x="459.50" y="610.00" font-size="10" font-weight="bold" font-style="normal" text-anchor="middle" fill="#000" transform="translate(459.50 610.00) rotate(0) scale(1.04 1.0) translate(-459.50 -610.00)">C</text>
<line x1="480.90" y1="539.58" x2="480.90" y2="544.52" stroke="#2a2a2a" stroke-width="1.3"/>
<line x1="477.30" y1="539.58" x2="484.50" y2="539.58" stroke="#2a2a2a" stroke-width="1.8"/>
<rect x="474.25" y="544.57" width="13.30" height="52.13" fill="#000" stroke="#1a1a1a" stroke-width="1.3"/>
<line x1="480.90" y1="596.70" x2="480.90" y2="599.70" stroke="#888" stroke-width="1.1"/>
<text x="480.50" y="610.00" font-size="10" font-weight="bold" font-style="normal" text-anchor="middle" fill="#000" transform="translate(480.50 610.00) rotate(0) scale(1.04 1.0) translate(-480.50 -610.00)">FO</text>
<text x="480.95" y="540.68" font-size="13" font-weight="bold" font-style="normal" text-anchor="middle" fill="#3a3a3a">*</text>
<text x="471.55" y="623.10" font-size="10" font-weight="bold" font-style="italic" text-anchor="middle" fill="#000">22:6<tspan font-style="italic">n</tspan>-3</text>
<text x="23.20" y="311.80" font-size="18.7" font-weight="bold" font-style="italic" text-anchor="start" fill="#000">I</text>
<text x="29.10" y="450.90" font-size="9.5" font-weight="bold" font-style="normal" text-anchor="middle" fill="#000" transform="translate(29.10 450.90) rotate(-90) scale(1.077 1.0) translate(-29.10 -450.90)">Hepatic Fatty Acids (mol %)</text>
<line x1="563.20" y1="317.30" x2="563.20" y2="593.70" stroke="#888" stroke-width="1.1"/>
<line x1="562.60" y1="593.10" x2="1003.00" y2="593.10" stroke="#5a5a5a" stroke-width="1.4"/>
<line x1="559.80" y1="593.10" x2="563.20" y2="593.10" stroke="#444" stroke-width="1.3"/>
<text x="558.80" y="596.00" font-size="8.2" font-weight="normal" font-style="normal" text-anchor="end" fill="#000" stroke="#000" stroke-width="0.15" transform="translate(558.80 596.00) rotate(0) scale(0.82 1.0) translate(-558.80 -596.00)">0</text>
<line x1="559.80" y1="524.27" x2="563.20" y2="524.27" stroke="#444" stroke-width="1.3"/>
<text x="558.80" y="527.17" font-size="8.2" font-weight="normal" font-style="normal" text-anchor="end" fill="#000" stroke="#000" stroke-width="0.15" transform="translate(558.80 527.17) rotate(0) scale(0.82 1.0) translate(-558.80 -527.17)">1</text>
<line x1="559.80" y1="455.45" x2="563.20" y2="455.45" stroke="#444" stroke-width="1.3"/>
<text x="558.80" y="458.35" font-size="8.2" font-weight="normal" font-style="normal" text-anchor="end" fill="#000" stroke="#000" stroke-width="0.15" transform="translate(558.80 458.35) rotate(0) scale(0.82 1.0) translate(-558.80 -458.35)">2</text>
<line x1="559.80" y1="386.62" x2="563.20" y2="386.62" stroke="#444" stroke-width="1.3"/>
<text x="558.80" y="389.52" font-size="8.2" font-weight="normal" font-style="normal" text-anchor="end" fill="#000" stroke="#000" stroke-width="0.15" transform="translate(558.80 389.52) rotate(0) scale(0.82 1.0) translate(-558.80 -389.52)">3</text>
<line x1="559.80" y1="317.80" x2="563.20" y2="317.80" stroke="#444" stroke-width="1.3"/>
<text x="558.80" y="320.70" font-size="8.2" font-weight="normal" font-style="normal" text-anchor="end" fill="#000" stroke="#000" stroke-width="0.15" transform="translate(558.80 320.70) rotate(0) scale(0.82 1.0) translate(-558.80 -320.70)">4</text>
<line x1="590.25" y1="504.59" x2="590.25" y2="523.22" stroke="#333" stroke-width="1.4"/>
<line x1="584.65" y1="504.59" x2="595.85" y2="504.59" stroke="#333" stroke-width="1.8"/>
<rect x="579.40" y="522.62" width="21.70" height="69.68" fill="#fff"/>
<polyline points="579.40,593.10 579.40,522.62 601.10,522.62 601.10,593.10" fill="none" stroke="#333" stroke-width="1.3"/>
<line x1="590.25" y1="593.10" x2="590.25" y2="596.10" stroke="#888" stroke-width="1.1"/>
<text x="590.25" y="607.10" font-size="11" font-weight="bold" font-style="normal" text-anchor="middle" fill="#000">C</text>
<line x1="623.05" y1="338.72" x2="623.05" y2="409.32" stroke="#333" stroke-width="1.4"/>
<line x1="617.45" y1="338.72" x2="628.65" y2="338.72" stroke="#333" stroke-width="1.8"/>
<rect x="612.65" y="409.37" width="20.80" height="183.73" fill="#000" stroke="#333" stroke-width="1.3"/>
<line x1="623.05" y1="593.10" x2="623.05" y2="596.10" stroke="#888" stroke-width="1.1"/>
<text x="623.05" y="607.10" font-size="11" font-weight="bold" font-style="normal" text-anchor="middle" fill="#000">FO</text>
<text x="623.40" y="337.12" font-size="14" font-weight="bold" font-style="normal" text-anchor="middle" fill="#2a2a2a">*</text>
<text x="606.15" y="623.60" font-size="11.3" font-weight="bold" font-style="italic" text-anchor="middle" fill="#000" transform="translate(606.15 623.60) rotate(0) scale(0.99 1.0) translate(-606.15 -623.60)">PPAR-&#945;</text>
<line x1="678.05" y1="479.19" x2="678.05" y2="515.24" stroke="#333" stroke-width="1.4"/>
<line x1="672.45" y1="479.19" x2="683.65" y2="479.19" stroke="#333" stroke-width="1.8"/>
<rect x="667.20" y="514.64" width="21.70" height="77.66" fill="#fff"/>
<polyline points="667.20,593.10 667.20,514.64 688.90,514.64 688.90,593.10" fill="none" stroke="#333" stroke-width="1.3"/>
<line x1="678.05" y1="593.10" x2="678.05" y2="596.10" stroke="#888" stroke-width="1.1"/>
<text x="678.05" y="607.10" font-size="11" font-weight="bold" font-style="normal" text-anchor="middle" fill="#000">C</text>
<line x1="710.95" y1="510.03" x2="710.95" y2="535.68" stroke="#333" stroke-width="1.4"/>
<line x1="705.35" y1="510.03" x2="716.55" y2="510.03" stroke="#333" stroke-width="1.8"/>
<rect x="700.55" y="535.73" width="20.80" height="57.37" fill="#000" stroke="#333" stroke-width="1.3"/>
<line x1="710.95" y1="593.10" x2="710.95" y2="596.10" stroke="#888" stroke-width="1.1"/>
<text x="710.95" y="607.10" font-size="11" font-weight="bold" font-style="normal" text-anchor="middle" fill="#000">FO</text>
<text x="694.80" y="624.10" font-size="11.3" font-weight="bold" font-style="italic" text-anchor="middle" fill="#000" transform="translate(694.80 624.10) rotate(0) scale(0.92 1.0) translate(-694.80 -624.10)">SREBP-1c</text>
<line x1="765.85" y1="499.91" x2="765.85" y2="522.12" stroke="#333" stroke-width="1.4"/>
<line x1="760.25" y1="499.91" x2="771.45" y2="499.91" stroke="#333" stroke-width="1.8"/>
<rect x="755.00" y="521.52" width="21.70" height="70.78" fill="#fff"/>
<polyline points="755.00,593.10 755.00,521.52 776.70,521.52 776.70,593.10" fill="none" stroke="#333" stroke-width="1.3"/>
<line x1="765.85" y1="593.10" x2="765.85" y2="596.10" stroke="#888" stroke-width="1.1"/>
<text x="765.85" y="607.10" font-size="11" font-weight="bold" font-style="normal" text-anchor="middle" fill="#000">C</text>
<line x1="798.85" y1="539.62" x2="798.85" y2="548.62" stroke="#333" stroke-width="1.4"/>
<line x1="793.25" y1="539.62" x2="804.45" y2="539.62" stroke="#333" stroke-width="1.8"/>
<rect x="788.45" y="548.67" width="20.80" height="44.43" fill="#000" stroke="#333" stroke-width="1.3"/>
<line x1="798.85" y1="593.10" x2="798.85" y2="596.10" stroke="#888" stroke-width="1.1"/>
<text x="798.85" y="607.10" font-size="11" font-weight="bold" font-style="normal" text-anchor="middle" fill="#000">FO</text>
<text x="798.80" y="536.72" font-size="14" font-weight="bold" font-style="normal" text-anchor="middle" fill="#2a2a2a">*</text>
<text x="781.65" y="624.10" font-size="11.3" font-weight="bold" font-style="italic" text-anchor="middle" fill="#000" transform="translate(781.65 624.10) rotate(0) scale(0.92 1.0) translate(-781.65 -624.10)">ChREBP</text>
<line x1="853.65" y1="465.09" x2="853.65" y2="512.28" stroke="#333" stroke-width="1.4"/>
<line x1="848.05" y1="465.09" x2="859.25" y2="465.09" stroke="#333" stroke-width="1.8"/>
<rect x="842.80" y="511.68" width="21.70" height="80.62" fill="#fff"/>
<polyline points="842.80,593.10 842.80,511.68 864.50,511.68 864.50,593.10" fill="none" stroke="#333" stroke-width="1.3"/>
<line x1="853.65" y1="593.10" x2="853.65" y2="596.10" stroke="#888" stroke-width="1.1"/>
<text x="853.65" y="607.10" font-size="11" font-weight="bold" font-style="normal" text-anchor="middle" fill="#000">C</text>
<line x1="886.75" y1="573.42" x2="886.75" y2="580.83" stroke="#333" stroke-width="1.4"/>
<line x1="881.15" y1="573.42" x2="892.35" y2="573.42" stroke="#333" stroke-width="1.8"/>
<rect x="876.35" y="580.88" width="20.80" height="12.22" fill="#000" stroke="#333" stroke-width="1.3"/>
<line x1="886.75" y1="593.10" x2="886.75" y2="596.10" stroke="#888" stroke-width="1.1"/>
<text x="886.75" y="607.10" font-size="11" font-weight="bold" font-style="normal" text-anchor="middle" fill="#000">FO</text>
<text x="887.10" y="570.22" font-size="14" font-weight="bold" font-style="normal" text-anchor="middle" fill="#2a2a2a">*</text>
<text x="869.00" y="622.80" font-size="11.3" font-weight="bold" font-style="italic" text-anchor="middle" fill="#000" transform="translate(869.00 622.80) rotate(0) scale(0.92 1.0) translate(-869.00 -622.80)">FAS</text>
<line x1="941.45" y1="476.30" x2="941.45" y2="516.89" stroke="#333" stroke-width="1.4"/>
<line x1="935.85" y1="476.30" x2="947.05" y2="476.30" stroke="#333" stroke-width="1.8"/>
<rect x="930.60" y="516.29" width="21.70" height="76.01" fill="#fff"/>
<polyline points="930.60,593.10 930.60,516.29 952.30,516.29 952.30,593.10" fill="none" stroke="#333" stroke-width="1.3"/>
<line x1="941.45" y1="593.10" x2="941.45" y2="596.10" stroke="#888" stroke-width="1.1"/>
<text x="941.45" y="607.10" font-size="11" font-weight="bold" font-style="normal" text-anchor="middle" fill="#000">C</text>
<line x1="974.65" y1="547.61" x2="974.65" y2="564.72" stroke="#333" stroke-width="1.4"/>
<line x1="969.05" y1="547.61" x2="980.25" y2="547.61" stroke="#333" stroke-width="1.8"/>
<rect x="964.25" y="564.77" width="20.80" height="28.33" fill="#000" stroke="#333" stroke-width="1.3"/>
<line x1="974.65" y1="593.10" x2="974.65" y2="596.10" stroke="#888" stroke-width="1.1"/>
<text x="974.65" y="607.10" font-size="11" font-weight="bold" font-style="normal" text-anchor="middle" fill="#000">FO</text>
<text x="974.50" y="546.52" font-size="14" font-weight="bold" font-style="normal" text-anchor="middle" fill="#2a2a2a">*</text>
<text x="955.75" y="622.40" font-size="11.3" font-weight="bold" font-style="italic" text-anchor="middle" fill="#000" transform="translate(955.75 622.40) rotate(0) scale(0.92 1.0) translate(-955.75 -622.40)">MTTP</text>
<text x="527.60" y="312.00" font-size="18.9" font-weight="bold" font-style="italic" text-anchor="start" fill="#000" transform="translate(527.60 312.00) rotate(0) scale(1.15 1.0) translate(-527.60 -312.00)">J</text>
<text x="540.70" y="454.40" font-size="11" font-weight="bold" font-style="normal" text-anchor="middle" fill="#000" transform="translate(540.70 454.40) rotate(-90) scale(1.157 1.0) translate(-540.70 -454.40)">Relative mRNA expression</text>
</svg>
</body></html>
